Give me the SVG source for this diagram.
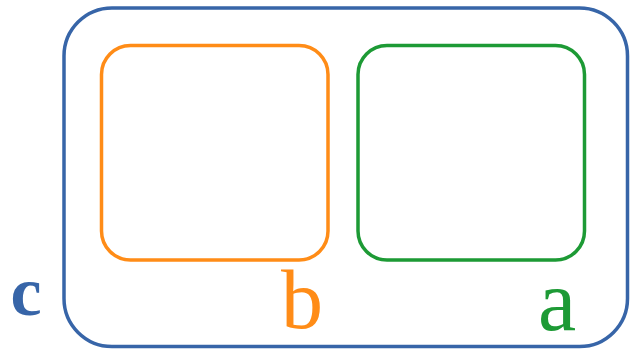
<svg xmlns="http://www.w3.org/2000/svg" width="630" height="350" viewBox="0 0 630 350">
  <style>
    .box { fill: none; stroke-width: 3.5; }
    .lbl { font-family: "Liberation Serif", "DejaVu Serif", serif; text-anchor: middle; }
  </style>
  <rect width="630" height="350" fill="#ffffff"/>
  <g id="c">
    <rect class="box" x="64" y="8" width="563.5" height="338.5" rx="48" ry="48" stroke="#3765a8"/>
    <text class="lbl" x="26" y="315" font-size="70" font-weight="bold" fill="#3765a8">c</text>
  </g>
  <g id="b">
    <rect class="box" x="101.5" y="45.5" width="226.5" height="214.5" rx="29" ry="29" stroke="#ff8c17"/>
    <text class="lbl" x="302" y="328" font-size="84" fill="#ff8c17">b</text>
  </g>
  <g id="a">
    <rect class="box" x="358" y="45.5" width="226.5" height="214.5" rx="29" ry="29" stroke="#1d9a35"/>
    <text class="lbl" x="557" y="330" font-size="86" fill="#1d9a35">a</text>
  </g>
</svg>
